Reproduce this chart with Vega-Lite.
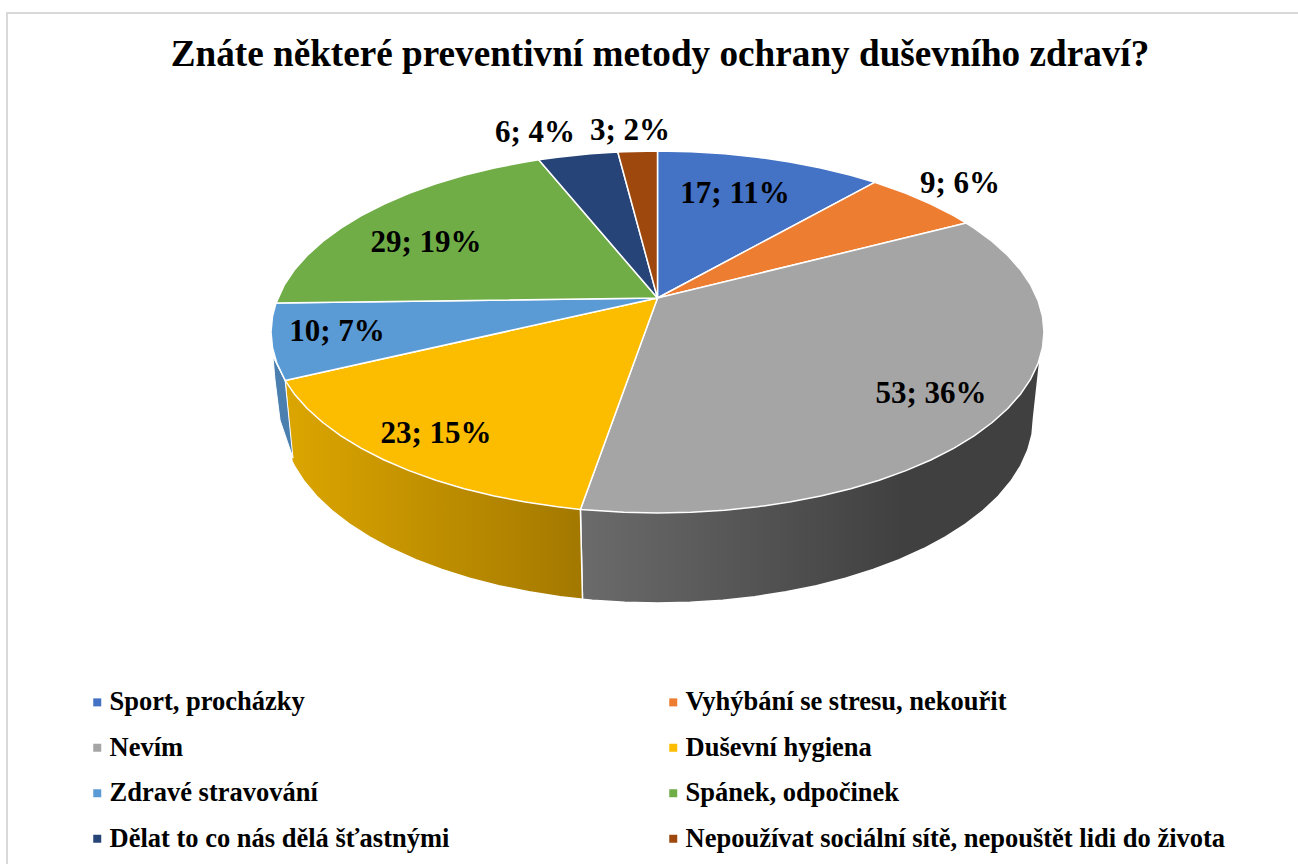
{
"$schema":"https://vega.github.io/schema/vega-lite/v6.json",
"width":1298,"height":864,"padding":0,"autosize":{"type":"none"},"background":"white",
"title":{"text":"Znáte některé preventivní metody ochrany duševního zdraví?","font":"Liberation Serif","fontSize":37.2,"fontWeight":"bold","color":"black","anchor":"middle","frame":"group","offset":0,"dx":11,"dy":103,"baseline":"alphabetic"},
"projection":{"type":"identity","reflectY":true,"scale":1,"translate":[657.5,298]},
"layer":[
{"data":{"values":[{"type":"Feature","properties":{"name":"frame"},"geometry":{"type":"LineString","coordinates":[[-650.5,-570],[-650.5,285],[645,285]]}}]},
 "mark":{"type":"geoshape","filled":false,"stroke":"#d9d9d9","strokeWidth":2},"encoding":{}},
{"data":{"values":[{"type":"Feature","properties":{"name":"Nevím"},"geometry":{"type":"Polygon","coordinates":[[[382.7,-59],[376,-120],[374.6,-136.1],[370.3,-152.1],[363.2,-167.9],[353.3,-183.3],[340.8,-198.2],[325.6,-212.5],[308,-226.1],[288,-238.9],[265.9,-250.8],[241.7,-261.7],[215.7,-271.5],[188,-280.2],[158.9,-287.7],[128.6,-293.8],[97.3,-298.7],[65.3,-302.2],[32.8,-304.3],[0,-305],[-32.8,-304.3],[-65.3,-302.2],[-75,-301.3],[-77.1,-211.4],[382.7,-59]]]}}]},
 "mark":{"type":"geoshape","stroke":"white","strokeWidth":1.5,"fill":{"gradient":"linear","x1":0,"x2":1,"y1":0,"y2":0,"stops":[{"offset":0,"color":"#6b6b6b"},{"offset":0.7,"color":"#404040"},{"offset":1,"color":"#404040"}]}},"encoding":{}},
{"data":{"values":[{"type":"Feature","properties":{"name":"Duševní hygiena"},"geometry":{"type":"Polygon","coordinates":[[[-372.4,-82.4],[-365.6,-163],[-363.2,-167.9],[-353.3,-183.3],[-340.8,-198.2],[-325.6,-212.5],[-308,-226.1],[-288,-238.9],[-265.9,-250.8],[-241.7,-261.7],[-215.7,-271.5],[-188,-280.2],[-158.9,-287.7],[-128.6,-293.8],[-97.3,-298.7],[-75,-301.3],[-77.1,-211.4],[-372.4,-82.4]]]}}]},
 "mark":{"type":"geoshape","stroke":"white","strokeWidth":1.5,"fill":{"gradient":"linear","x1":0,"x2":1,"y1":0,"y2":0,"stops":[{"offset":0,"color":"#dca600"},{"offset":1,"color":"#a37800"}]}},"encoding":{}},
{"data":{"values":[{"type":"Feature","properties":{"name":"Zdravé stravování"},"geometry":{"type":"Polygon","coordinates":[[[-384.5,-59],[-382.5,-82],[-377.5,-122],[-364.5,-160],[-372.4,-82.4],[-384.5,-59]]]}}]},
 "mark":{"type":"geoshape","fill":"#4a7fb0","stroke":"white","strokeWidth":1},"encoding":{}},
{"data":{"values":[
{"type":"Feature","properties":{"name":"Sport, procházky"},"geometry":{"type":"Polygon","coordinates":[[[0,0],[0,147],[33.7,146.3],[67.1,144.3],[100,140.8],[132.2,136.1],[163.3,130],[193.3,122.8],[217.2,115.7],[0,0]]]}},
{"type":"Feature","properties":{"name":"Vyhýbání se stresu, nekouřit"},"geometry":{"type":"Polygon","coordinates":[[[0,0],[217.2,115.7],[248.4,104.6],[273.3,94],[296.1,82.3],[308.7,74.9],[0,0]]]}},
{"type":"Feature","properties":{"name":"Nevím"},"geometry":{"type":"Polygon","coordinates":[[[0,0],[308.7,74.9],[316.6,69.8],[334.7,56.5],[350.3,42.5],[363.2,27.9],[373.3,12.8],[380.6,-2.6],[385,-18.2],[386.5,-34],[385,-49.8],[380.6,-65.4],[373.3,-80.8],[363.2,-95.9],[350.3,-110.5],[334.7,-124.5],[316.6,-137.8],[296.1,-150.3],[273.3,-162],[248.4,-172.6],[221.7,-182.3],[193.3,-190.8],[163.3,-198],[132.2,-204.1],[100,-208.8],[67.1,-212.3],[33.7,-214.3],[0,-215],[-33.7,-214.3],[-77.1,-211.4],[0,0]]]}},
{"type":"Feature","properties":{"name":"Duševní hygiena"},"geometry":{"type":"Polygon","coordinates":[[[0,0],[-77.1,-211.4],[-100,-208.8],[-132.2,-204.1],[-163.3,-198],[-193.3,-190.8],[-221.7,-182.3],[-248.4,-172.6],[-273.3,-162],[-296.1,-150.3],[-316.6,-137.8],[-334.7,-124.5],[-350.3,-110.5],[-363.2,-95.9],[-372.4,-82.4],[0,0]]]}},
{"type":"Feature","properties":{"name":"Zdravé stravování"},"geometry":{"type":"Polygon","coordinates":[[[0,0],[-372.4,-82.4],[-380.6,-65.4],[-385,-49.8],[-386.5,-34],[-385,-18.2],[-381.5,-5.1],[0,0]]]}},
{"type":"Feature","properties":{"name":"Spánek, odpočinek"},"geometry":{"type":"Polygon","coordinates":[[[0,0],[-381.5,-5.1],[-373.3,12.8],[-363.2,27.9],[-350.3,42.5],[-334.7,56.5],[-316.6,69.8],[-296.1,82.3],[-273.3,94],[-248.4,104.6],[-221.7,114.3],[-193.3,122.8],[-163.3,130],[-132.2,136.1],[-118.8,138.2],[0,0]]]}},
{"type":"Feature","properties":{"name":"Dělat to co nás dělá šťastnými"},"geometry":{"type":"Polygon","coordinates":[[[0,0],[-118.8,138.2],[-100,140.8],[-67.1,144.3],[-39.7,146],[0,0]]]}},
{"type":"Feature","properties":{"name":"Nepoužívat sociální sítě, nepouštět lidi do života"},"geometry":{"type":"Polygon","coordinates":[[[0,0],[-39.7,146],[-33.7,146.3],[0,147],[0,0]]]}}
]},
 "mark":{"type":"geoshape","stroke":"white","strokeWidth":1.5,"strokeJoin":"round"},
 "encoding":{"color":{"field":"properties.name","type":"nominal","scale":{"domain":["Sport, procházky","Vyhýbání se stresu, nekouřit","Nevím","Duševní hygiena","Zdravé stravování","Spánek, odpočinek","Dělat to co nás dělá šťastnými","Nepoužívat sociální sítě, nepouštět lidi do života"],"range":["#4472c4","#ed7d31","#a5a5a5","#fcbd00","#5b9bd5","#70ad47","#264478","#9e480e"]},
 "legend":{"orient":"none","legendX":84,"legendY":689,"direction":"horizontal","columns":2,"title":null,"symbolType":"square","symbolSize":64,"symbolStrokeWidth":0,"labelFont":"Liberation Serif","labelFontSize":26.5,"labelFontWeight":"bold","labelColor":"black","labelLimit":700,"rowPadding":18.5,"columnPadding":210,"labelOffset":-1}}}},
{"data":{"values":[
{"name":"Sport, procházky","count":17,"pct":11,"label":"17; 11%","lx":77.5,"ly":104},
{"name":"Vyhýbání se stresu, nekouřit","count":9,"pct":6,"label":"9; 6%","lx":302.5,"ly":114},
{"name":"Nevím","count":53,"pct":36,"label":"53; 36%","lx":273.5,"ly":-96},
{"name":"Duševní hygiena","count":23,"pct":15,"label":"23; 15%","lx":-221.5,"ly":-136},
{"name":"Zdravé stravování","count":10,"pct":7,"label":"10; 7%","lx":-320.5,"ly":-34},
{"name":"Spánek, odpočinek","count":29,"pct":19,"label":"29; 19%","lx":-231.5,"ly":55},
{"name":"Dělat to co nás dělá šťastnými","count":6,"pct":4,"label":"6; 4%","lx":-122.5,"ly":165},
{"name":"Nepoužívat sociální sítě, nepouštět lidi do života","count":3,"pct":2,"label":"3; 2%","lx":-27.5,"ly":167}
]},
 "mark":{"type":"text","font":"Liberation Serif","fontSize":31,"fontWeight":"bold","color":"black","align":"center","baseline":"middle"},
 "encoding":{"longitude":{"field":"lx","type":"quantitative"},"latitude":{"field":"ly","type":"quantitative"},"text":{"field":"label","type":"nominal"}}}
]
}
